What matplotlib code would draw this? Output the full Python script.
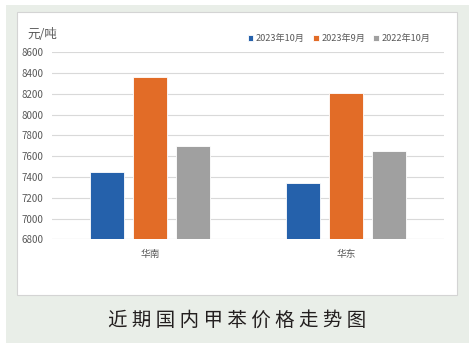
import matplotlib
matplotlib.use("Agg")
import matplotlib.pyplot as plt
from matplotlib.patches import Rectangle
import numpy as np

plt.rcParams['font.family'] = ['Noto Sans CJK SC', 'DejaVu Sans']

categories = ["华南", "华东"]
series_names = ["2023年10月", "2023年9月", "2022年10月"]
values_oct23 = [7450, 7340]
values_sep23 = [8360, 8210]
values_oct22 = [7700, 7650]
yticks = [6800, 7000, 7200, 7400, 7600, 7800, 8000, 8200, 8400, 8600]
unit_label = "元/吨"
title = "近期国内甲苯价格走势图"

colors = ["#2561AB", "#E26C27", "#A0A0A0"]

W, H = 477, 351
fig = plt.figure(figsize=(W / 100, H / 100), dpi=100)
fig.patch.set_facecolor("white")

def px_rect(x0, y0, x1, y1, **kw):
    return Rectangle((x0 / W, 1 - y1 / H), (x1 - x0) / W, (y1 - y0) / H,
                     transform=fig.transFigure, **kw)

fig.patches.append(px_rect(6, 5, 469, 343, facecolor="#E9EEE8", edgecolor="none", zorder=-2))
fig.patches.append(px_rect(17, 12, 457, 295, facecolor="white", edgecolor="#D4D4D4", linewidth=0.8, zorder=-1))

ax = fig.add_axes([52 / W, 1 - 239.3 / H, (444 - 52) / W, (239.3 - 52.3) / H])
ax.set_facecolor("none")
ax.set_zorder(2)

x = np.arange(len(categories))
width = 0.173
step = 0.221
all_series = [values_oct23, values_sep23, values_oct22]
for i, (vals, name, c) in enumerate(zip(all_series, series_names, colors)):
    ax.bar(x + (i - 1) * step, vals, width, color=c, label=name,
           edgecolor="white", linewidth=0.6, zorder=3)

ax.set_xlim(-0.5, 1.5)
ax.set_ylim(6800, 8600)
ax.set_yticks(yticks)
ax.set_yticklabels([str(v) for v in yticks], fontsize=7, color="#595959")
ax.set_xticks(x)
ax.set_xticklabels(categories, fontsize=7, color="#595959")
ax.tick_params(axis="both", length=0, pad=6)
ax.tick_params(axis="x", pad=7)
ax.grid(axis="y", color="#D9D9D9", linewidth=0.8, zorder=0)
for s in ax.spines.values():
    s.set_visible(False)
ax.axhline(6800, color="#D9D9D9", linewidth=0.8, zorder=2)

fig.text(27 / W, 1 - 35 / H, unit_label, fontsize=9, color="#595959", va="center", ha="left")

leg = fig.legend(loc="center right", bbox_to_anchor=(437 / W, 1 - 38.5 / H), ncol=3,
                 frameon=False, fontsize=6.6, handlelength=0.6, handleheight=0.6,
                 handletextpad=0.3, columnspacing=0.9, labelcolor="#595959",
                 borderpad=0.2)

fig.text(237 / W, 1 - 320 / H, " ".join(title), fontsize=14, color="#231F1F",
         ha="center", va="center")

fig.savefig("out.png", dpi=100)
